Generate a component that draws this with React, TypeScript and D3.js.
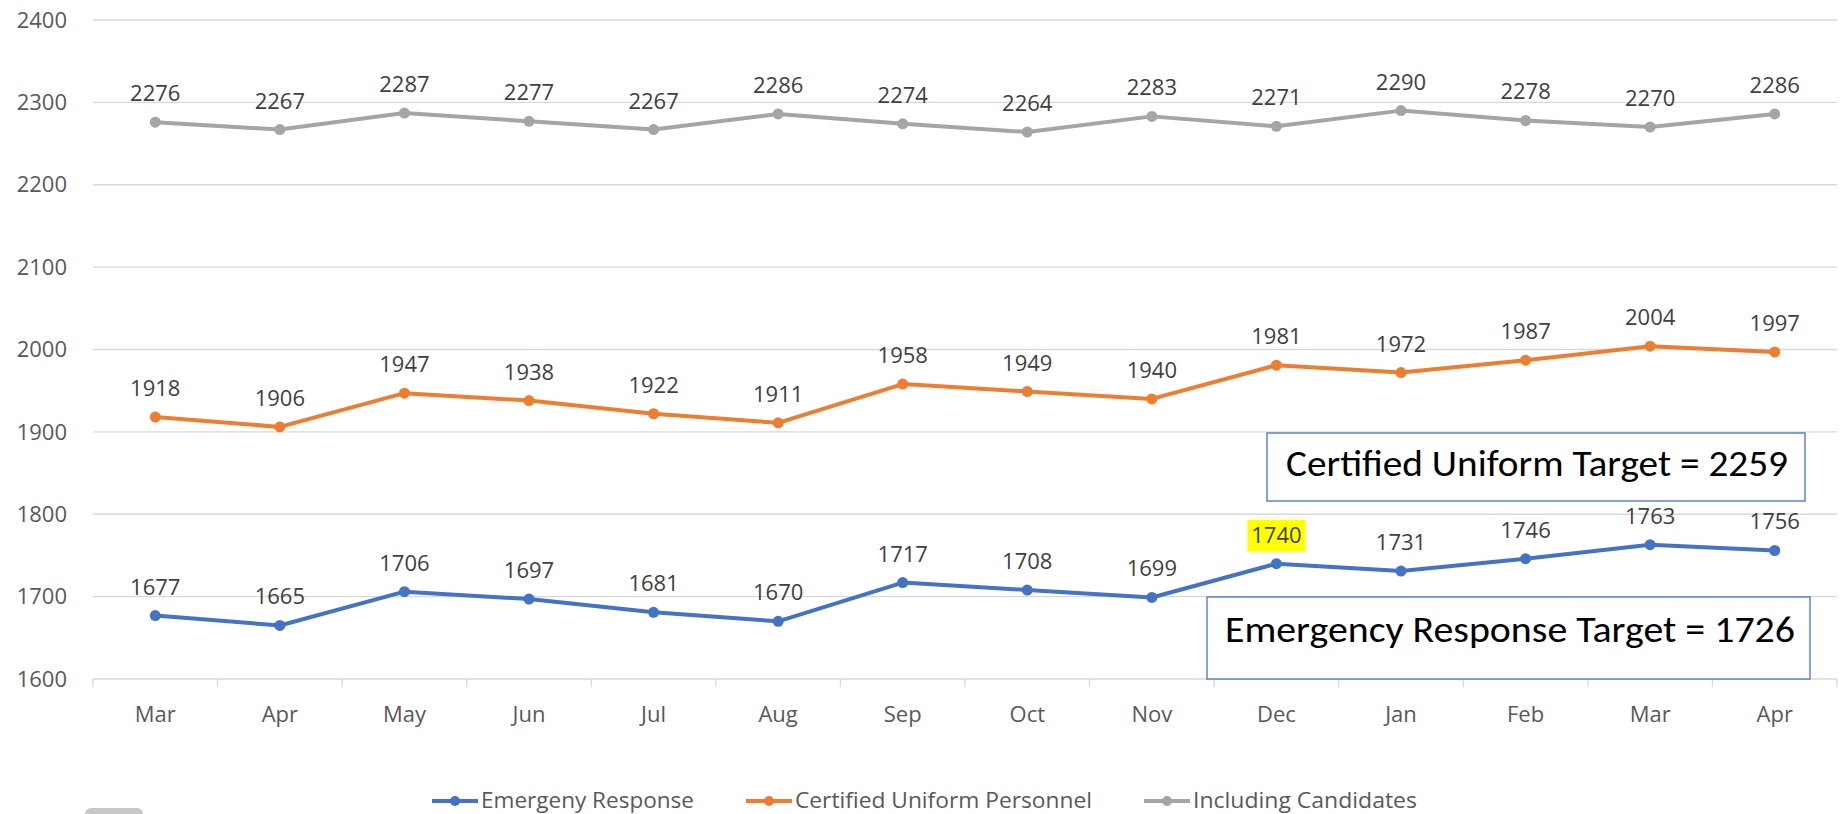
import React, { useEffect, useRef } from "react";
import * as d3 from "d3";

const months = ["Mar", "Apr", "May", "Jun", "Jul", "Aug", "Sep", "Oct", "Nov", "Dec", "Jan", "Feb", "Mar", "Apr"];
const emergencyResponse = [1677, 1665, 1706, 1697, 1681, 1670, 1717, 1708, 1699, 1740, 1731, 1746, 1763, 1756];
const certifiedUniform = [1918, 1906, 1947, 1938, 1922, 1911, 1958, 1949, 1940, 1981, 1972, 1987, 2004, 1997];
const includingCandidates = [2276, 2267, 2287, 2277, 2267, 2286, 2274, 2264, 2283, 2271, 2290, 2278, 2270, 2286];
const yTicks = [1600, 1700, 1800, 1900, 2000, 2100, 2200, 2300, 2400];
const seriesNames = ["Emergeny Response", "Certified Uniform Personnel", "Including Candidates"];
const highlightedIndex = 9;

const W = 1843;
const H = 814;
const FONT = "'Open Sans', 'Segoe UI', sans-serif";

export default function App() {
  const ref = useRef<SVGSVGElement | null>(null);

  useEffect(() => {
    const svg = d3.select(ref.current);
    svg.selectAll("*").remove();

    const left = 93, right = 1837, top = 20, bottom = 679;
    const x = d3.scaleBand<number>().domain(d3.range(months.length)).range([left, right]);
    const y = d3.scaleLinear().domain([1600, 2400]).range([bottom, top]);
    const cx = (i: number) => (x(i) as number) + x.bandwidth() / 2;

    // gridlines
    svg.append("g").selectAll("line").data(yTicks).join("line")
      .attr("x1", left).attr("x2", right)
      .attr("y1", d => y(d)).attr("y2", d => y(d))
      .attr("stroke", "#d9d9d9").attr("stroke-width", 1.3);

    // x tick marks
    svg.append("g").selectAll("line").data(d3.range(months.length + 1)).join("line")
      .attr("x1", i => left + i * x.bandwidth()).attr("x2", i => left + i * x.bandwidth())
      .attr("y1", bottom).attr("y2", bottom + 8)
      .attr("stroke", "#d9d9d9").attr("stroke-width", 1.3);

    // y labels
    svg.append("g").selectAll("text").data(yTicks).join("text")
      .attr("x", 67).attr("y", d => y(d)).attr("dy", "0.35em")
      .attr("text-anchor", "end").attr("font-family", FONT).attr("font-size", 22)
      .attr("fill", "#595959").text(d => d);

    // x labels
    svg.append("g").selectAll("text").data(months).join("text")
      .attr("x", (_d, i) => cx(i)).attr("y", 722)
      .attr("text-anchor", "middle").attr("font-family", FONT).attr("font-size", 22)
      .attr("fill", "#595959").text(d => d);

    const series = [
      { name: seriesNames[0], values: emergencyResponse, color: "#4472C4" },
      { name: seriesNames[1], values: certifiedUniform, color: "#ED7D31" },
      { name: seriesNames[2], values: includingCandidates, color: "#A5A5A5" },
    ];

    const line = d3.line<number>().x((_d, i) => cx(i)).y(d => y(d));

    series.forEach((s, si) => {
      const g = svg.append("g");
      g.append("path").attr("d", line(s.values) as string)
        .attr("fill", "none").attr("stroke", s.color).attr("stroke-width", 4)
        .attr("stroke-linejoin", "round").attr("stroke-linecap", "round");
      g.selectAll("circle").data(s.values).join("circle")
        .attr("cx", (_d, i) => cx(i)).attr("cy", d => y(d)).attr("r", 5.5)
        .attr("fill", s.color);
      if (si === 0) {
        const ty = y(s.values[highlightedIndex]) - 21;
        g.append("rect")
          .attr("x", cx(highlightedIndex) - 29).attr("y", ty - 23)
          .attr("width", 58).attr("height", 32).attr("fill", "#FFFF00");
      }
      g.selectAll("text").data(s.values).join("text")
        .attr("x", (_d, i) => cx(i)).attr("y", d => y(d) - 21)
        .attr("text-anchor", "middle").attr("font-family", FONT).attr("font-size", 22)
        .attr("fill", "#404040").text(d => d);
    });

    // target boxes
    const boxes = [
      { x: 1267, y: 433, w: 538, h: 68, text: "Certified Uniform Target = 2259", tx: 1286, ty: 476, len: 502 },
      { x: 1207, y: 597, w: 603, h: 82, text: "Emergency Response Target = 1726", tx: 1225, ty: 642, len: 570 },
    ];
    boxes.forEach(b => {
      svg.append("rect").attr("x", b.x).attr("y", b.y).attr("width", b.w).attr("height", b.h)
        .attr("fill", "#ffffff").attr("stroke", "#4472C4").attr("stroke-width", 1.3);
      svg.append("text").attr("x", b.tx).attr("y", b.ty)
        .attr("font-family", "Carlito, Calibri, 'Open Sans', sans-serif").attr("font-size", 36)
        .attr("textLength", b.len).attr("lengthAdjust", "spacingAndGlyphs")
        .attr("fill", "#000000").text(b.text);
    });

    // legend
    const legendItems = [
      { x: 432, color: series[0].color, name: seriesNames[0], len: 213 },
      { x: 746, color: series[1].color, name: seriesNames[1], len: 297 },
      { x: 1144, color: series[2].color, name: seriesNames[2], len: 224 },
    ];
    const lg = svg.append("g");
    legendItems.forEach(it => {
      lg.append("line").attr("x1", it.x).attr("x2", it.x + 46).attr("y1", 801).attr("y2", 801)
        .attr("stroke", it.color).attr("stroke-width", 4);
      lg.append("circle").attr("cx", it.x + 23).attr("cy", 801).attr("r", 5).attr("fill", it.color);
      lg.append("text").attr("x", it.x + 49).attr("y", 801).attr("dy", "0.35em")
        .attr("font-family", FONT).attr("font-size", 21)
        .attr("textLength", it.len).attr("lengthAdjust", "spacingAndGlyphs")
        .attr("fill", "#595959").text(it.name);
    });

    // partial gray handle at bottom-left
    svg.append("rect").attr("x", 85).attr("y", 808).attr("width", 58).attr("height", 20)
      .attr("rx", 6).attr("fill", "#c8c8c8");
  }, []);

  return (
    <svg ref={ref} width={W} height={H}
      style={{ position: "absolute", left: 0, top: 0, background: "#ffffff" }} />
  );
}
